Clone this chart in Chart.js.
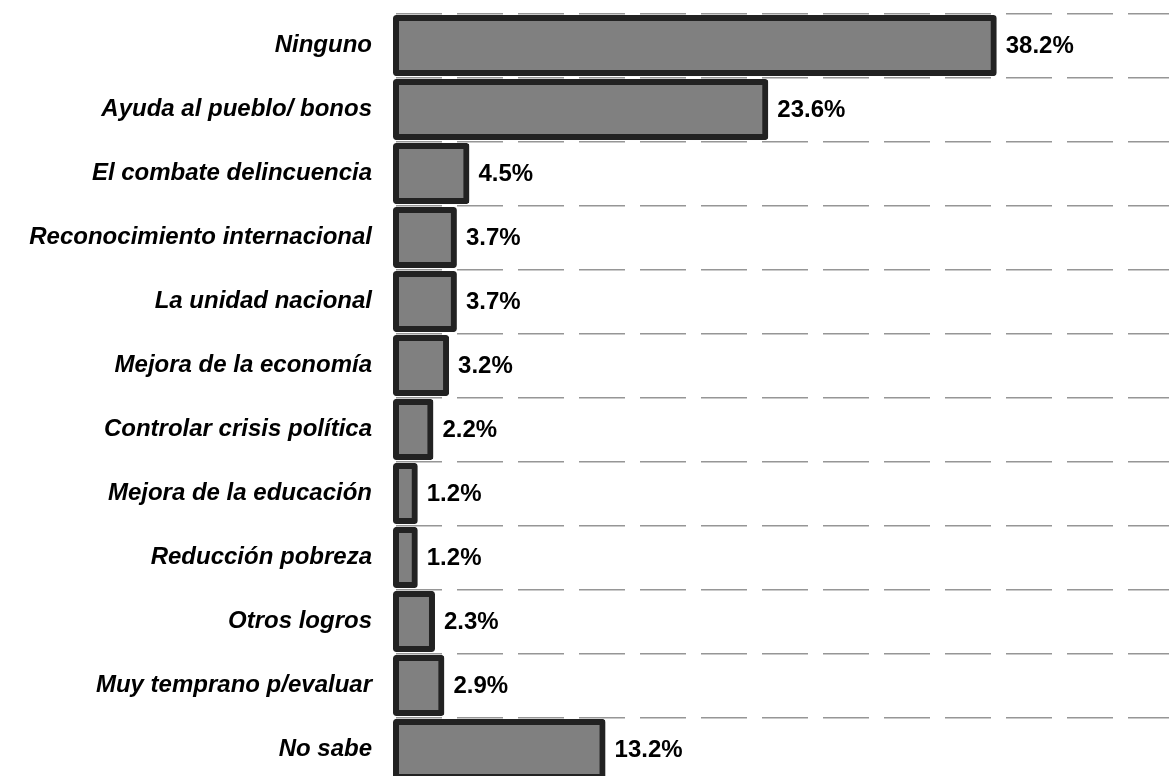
<!DOCTYPE html>
<html>
<head>
<meta charset="utf-8">
<script src="https://cdn.jsdelivr.net/npm/chart.js@4/dist/chart.umd.min.js"></script>
<style>
  html, body { margin: 0; padding: 0; background: #fff; overflow: hidden; height: 776px; }
  /* el eje agrega ~24.6px arriba y abajo; se corre el lienzo para que la primera linea quede en y=14 */
  #wrap { position: absolute; left: 0; top: -11px; width: 1169px; height: 817px; }
</style>
</head>
<body>
<div id="wrap"><canvas id="logros"></canvas></div>
<script>
    var labels = [
        "Ninguno",
        "Ayuda al pueblo/ bonos",
        "El combate delincuencia",
        "Reconocimiento internacional",
        "La unidad nacional",
        "Mejora de la economía",
        "Controlar crisis política",
        "Mejora de la educación",
        "Reducción pobreza",
        "Otros logros",
        "Muy temprano p/evaluar",
        "No sabe"
    ];
    var values = [38.2, 23.6, 4.5, 3.7, 3.7, 3.2, 2.2, 1.2, 1.2, 2.3, 2.9, 13.2];
    var xmin = 0;
    var xmax = 49.4;

    var fontName = "'Liberation Sans', Arial, sans-serif";

    // etiquetas de valor al final de cada barra
    var valueLabels = {
        id: 'valueLabels',
        afterDatasetsDraw: function(chart){
            var ctx = chart.ctx;
            var meta = chart.getDatasetMeta(0);
            ctx.save();
            ctx.font = "bold 24px " + fontName;
            ctx.fillStyle = "#000";
            ctx.textAlign = "left";
            ctx.textBaseline = "middle";
            for(var i=0;i<meta.data.length;i++){
                var bar = meta.data[i];
                ctx.fillText(values[i].toFixed(1) + "%", bar.x + 12, bar.y + 1);
            }
            ctx.restore();
        }
    };

    var barCtx = document.getElementById("logros");
    var barConfig = {
        type: 'bar',
        data: {
            labels: labels,
            datasets: [{
                data: values,
                backgroundColor: '#808080',
                borderColor: '#222222',
                borderWidth: 6,
                borderRadius: 3,
                borderSkipped: false,
                inflateAmount: 3,
                barPercentage: 0.86,
                categoryPercentage: 1.0,
                clip: false
            }]
        },
        options: {
            indexAxis: 'y',
            responsive: true,
            maintainAspectRatio: false,
            animation: false,
            events: [],
            layout: { padding: 0 },
            plugins: {
                legend: { display: false },
                tooltip: { enabled: false }
            },
            scales: {
                x: {
                    display: false,
                    min: xmin,
                    max: xmax
                },
                y: {
                    afterFit: function(scale){ scale.width = 396; },
                    border: { display: false, dash: [46, 15] },
                    grid: {
                        offset: true,
                        drawTicks: false,
                        color: '#969696',
                        lineWidth: 1.5
                    },
                    ticks: {
                        padding: 24,
                        color: '#000',
                        font: { family: fontName, size: 24, style: 'italic', weight: 'bold', lineHeight: 0.05 }
                    }
                }
            }
        },
        plugins: [valueLabels]
    };
    var barChart = new Chart(barCtx, barConfig);
</script>
</body>
</html>
